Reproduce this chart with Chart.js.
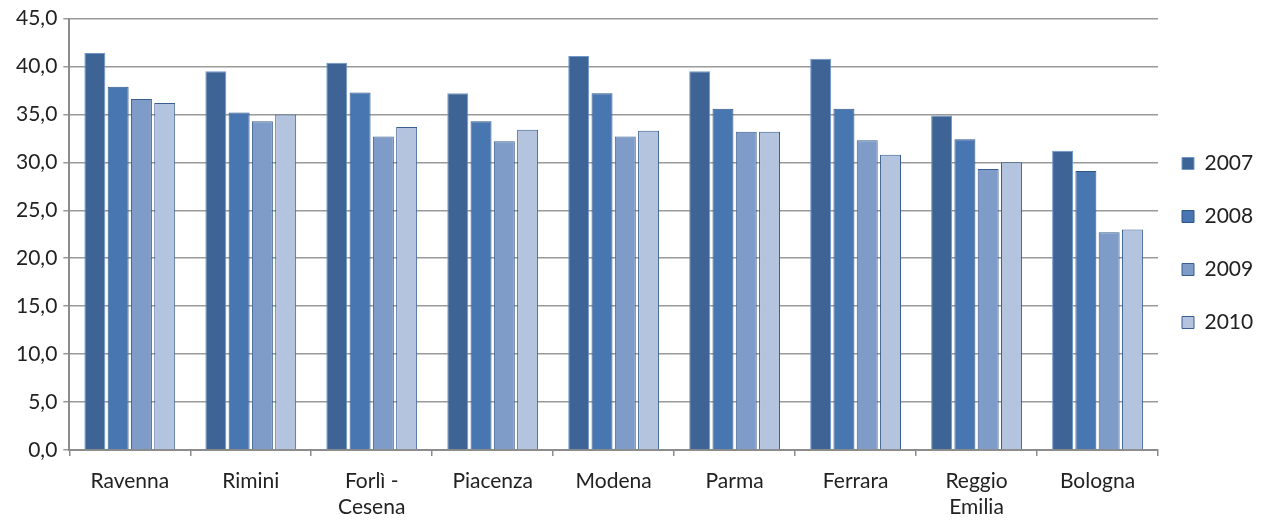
<!DOCTYPE html>
<html>
<head>
<meta charset="utf-8">
<script src="https://cdn.jsdelivr.net/npm/chart.js@4/dist/chart.umd.min.js"></script>
<style>
    html, body { margin: 0; padding: 0; background: #fff; }
    #wrap { width: 1261px; height: 520px; }
</style>
</head>
<body>
<div id="wrap"><canvas id="barChart"></canvas></div>
<script>
// Data
const provinces = ['Ravenna', 'Rimini', ['Forlì -', 'Cesena'], 'Piacenza', 'Modena', 'Parma', 'Ferrara', ['Reggio', 'Emilia'], 'Bologna'];
const years = ['2007', '2008', '2009', '2010'];
const values2007 = [41.4, 39.5, 40.4, 37.2, 41.1, 39.5, 40.8, 34.9, 31.2];
const values2008 = [37.9, 35.2, 37.3, 34.3, 37.2, 35.6, 35.6, 32.4, 29.1];
const values2009 = [36.6, 34.3, 32.7, 32.2, 32.7, 33.2, 32.3, 29.3, 22.7];
const values2010 = [36.2, 35.0, 33.7, 33.4, 33.3, 33.2, 30.8, 30.0, 23.0];
const yTicks = [0, 5, 10, 15, 20, 25, 30, 35, 40, 45];

const fills = ['#3d6494', '#4876b0', '#7f9cc8', '#b4c3de'];
const borders = ['#6f97cc', '#2f5787', '#3a5f8f', '#3a5f8f'];
const FONT = 'Lato, "Open Sans", sans-serif';

const series = [values2007, values2008, values2009, values2010];

// nudge the legend a bit closer to the plot and upwards, like the original
const legendNudge = {
    id: 'legendNudge',
    afterLayout(chart) {
        const lg = chart.legend;
        if (!lg) return;
        lg.left -= 8;
        lg.right -= 8;
        lg.top -= 27;
        lg.bottom -= 27;
    }
};

const ctx = document.getElementById('barChart').getContext('2d');
new Chart(ctx, {
    type: 'bar',
    data: {
        labels: provinces,
        datasets: years.map((y, i) => ({
            label: y,
            data: series[i],
            backgroundColor: fills[i],
            borderColor: borders[i],
            borderWidth: 1,
            barPercentage: 0.9,
            categoryPercentage: 0.77
        }))
    },
    plugins: [legendNudge],
    options: {
        responsive: true,
        maintainAspectRatio: false,
        animation: false,
        layout: {
            padding: { top: 8, right: 0, left: 10, bottom: -12 }
        },
        plugins: {
            legend: {
                position: 'right',
                maxWidth: 103,
                labels: {
                    boxWidth: 12,
                    boxHeight: 12,
                    padding: 32,
                    color: '#222',
                    font: { family: FONT, size: 21 }
                }
            },
            tooltip: { enabled: false }
        },
        scales: {
            x: {
                grid: {
                    offset: true,
                    drawOnChartArea: false,
                    drawTicks: true,
                    tickLength: 6,
                    color: '#8c8c8c',
                    lineWidth: 1.5
                },
                border: { color: '#8c8c8c', width: 2 },
                ticks: {
                    color: '#222',
                    padding: 12,
                    maxRotation: 0,
                    font: { family: FONT, size: 21, lineHeight: 1.24 }
                }
            },
            y: {
                min: 0,
                max: 45,
                afterBuildTicks: axis => {
                    axis.ticks = yTicks.map(v => ({ value: v }));
                },
                grid: {
                    color: '#9a9a9a',
                    lineWidth: 1.5,
                    tickLength: 6
                },
                border: { color: '#8c8c8c', width: 2 },
                ticks: {
                    color: '#222',
                    padding: 6,
                    font: { family: FONT, size: 21 },
                    callback: v => v.toFixed(1).replace('.', ',')
                }
            }
        }
    }
});
</script>
</body>
</html>
